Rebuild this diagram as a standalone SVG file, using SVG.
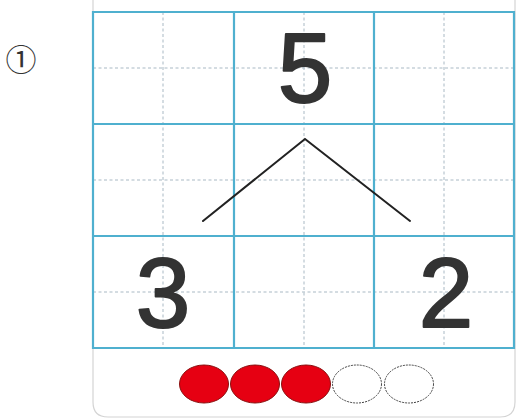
<svg xmlns="http://www.w3.org/2000/svg" width="518" height="419" viewBox="0 0 518 419">
<style>
.card{fill:#fff;stroke:#d4d4d4;stroke-width:1.2}
.major{stroke:#4fb0cf;stroke-width:2.2;fill:none}
.minor{stroke:#a9b9c4;stroke-width:1;stroke-dasharray:3 2.5;fill:none}
.num{font-family:"Liberation Sans",Arial,sans-serif;font-size:98px;fill:#333;stroke:#333;stroke-width:2;stroke-linejoin:round;text-anchor:middle}
.link{stroke:#222;stroke-width:2;fill:none;stroke-linecap:round}
.red{fill:#e60012;stroke:#8a1010;stroke-width:1}
.empty{fill:#fff;stroke:#444;stroke-width:1;stroke-dasharray:2 1}
</style>
<rect width="518" height="419" fill="#fff"/>
<text x="21" y="71" font-family="'Noto Sans CJK SC','DejaVu Sans',sans-serif" font-size="31" fill="#333" text-anchor="middle">①</text>
<path class="card" d="M93,-2 V402 Q93,417 108,417 H500 Q515,417 515,402 V-2"/>
<g id="grid">
<path class="minor" d="M163,12V348M304,12V348M444,12V348M93,68H514M93,180H514M93,292H514"/>
<path class="major" d="M93,12H514V348H93Z M234,12V348M374,12V348M93,124H514M93,236H514"/>
</g>
<g id="n5"><text class="num" x="305" y="102">5</text></g>
<g id="n3"><text class="num" x="163" y="327">3</text></g>
<g id="n2"><text class="num" x="446" y="327">2</text></g>
<g id="connectors">
<path class="link" d="M203,221L305,139L410,221"/>
</g>
<g id="counters">
<ellipse class="red" cx="204" cy="384" rx="24.5" ry="19"/>
<ellipse class="red" cx="255" cy="384" rx="24.5" ry="19"/>
<ellipse class="red" cx="306" cy="384" rx="24.5" ry="19"/>
<ellipse class="empty" cx="357" cy="384" rx="24.5" ry="19"/>
<ellipse class="empty" cx="409" cy="384" rx="24.5" ry="19"/>
</g>
</svg>
